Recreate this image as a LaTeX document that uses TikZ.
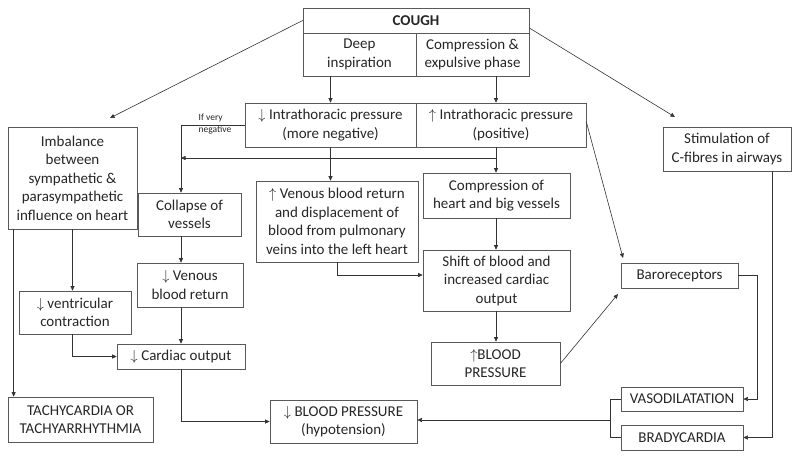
\documentclass[tikz,border=0pt]{standalone}
\usepackage{fontspec}
\setmainfont{Carlito}
\usetikzlibrary{arrows.meta}

\begin{document}
\begin{tikzpicture}[x=1pt, y=-1pt, >={Triangle[length=4.5pt, width=4pt]},
    every node/.style={font=\fontsize{15}{18.5}\selectfont, text=black!85}]
    \tikzset{
        box/.style 2 args={
                draw=black!65, line width=0.7pt, align=center, inner sep=1pt,
                minimum width=#1, minimum height=#2
            },
        wire/.style={draw=black!80, line width=0.6pt}
    }
    \useasboundingbox (0,0) rectangle (799,459);

    % Top row
    \node[box={226pt}{25pt}] (cough) at (416,20.5) {\textbf{COUGH}};
    \node[box={113pt}{43pt}] (deep) at (359.5,54.5) {Deep\\inspiration};
    \node[box={113pt}{43pt}] (compr) at (472.5,54.5) {Compression \&\\expulsive phase};

    % Pressure boxes
    \node[box={171pt}{44pt}] (ipneg) at (330.5,125) {$\downarrow$ Intrathoracic pressure\\(more negative)};
    \node[box={170pt}{44pt}] (ippos) at (501,125) {$\uparrow$ Intrathoracic pressure\\(positive)};
    \node[font=\fontsize{9.5}{12}\selectfont, align=left] (ifneg) at (215,124) {If very\\negative};

    % Left branch
    \node[box={129pt}{102pt}] (imbal) at (72.5,178) {Imbalance\\between\\sympathetic \&\\parasympathetic\\influence on heart};
    \node[box={103pt}{43pt}] (collapse) at (189.5,214.5) {Collapse of\\vessels};
    \node[box={106pt}{44pt}] (vendown) at (190,285) {$\downarrow$ Venous\\blood return};
    \node[box={112pt}{43pt}] (ventr) at (75,312.5) {$\downarrow$ ventricular\\contraction};
    \node[box={128pt}{25pt}] (cardout) at (181,356.5) {$\downarrow$ Cardiac output};
    \node[box={145pt}{45pt}] (tachy) at (80.5,419.5) {TACHYCARDIA OR\\TACHYARRHYTHMIA};
    \node[box={147pt}{43pt}] (bpdown) at (343.5,421.5) {$\downarrow$ BLOOD PRESSURE\\(hypotension)};

    % Middle branch
    \node[box={162pt}{81pt}] (venup) at (337,221.5) {$\uparrow$ Venous blood return\\and displacement of\\blood from pulmonary\\veins into the left heart};
    \node[box={147pt}{45pt}] (comph) at (496.5,195.5) {Compression of\\heart and big vessels};
    \node[box={147pt}{61pt}] (shift) at (496.5,280.5) {Shift of blood and\\increased cardiac\\output};
    \node[box={129pt}{43pt}] (bpup) at (495.5,363.5) {$\uparrow$BLOOD\\PRESSURE};

    % Right branch
    \node[box={128pt}{44pt}] (cfib) at (727,149) {Stimulation of\\C-fibres in airways};
    \node[box={117pt}{25pt}] (baro) at (679.5,275.5) {Baroreceptors};
    \node[box={122pt}{24pt}] (vaso) at (682,399) {VASODILATATION};
    \node[box={122pt}{25pt}] (brady) at (682,437.5) {BRADYCARDIA};

    % Free ends and bends
    \coordinate (imbtip) at (110,118);
    \coordinate (cfibtip) at (675,117);
    \coordinate (barotip) at (623,258);
    \coordinate (barotip2) at (618,294);
    \coordinate (neg) at (181,125);
    \coordinate (split) at (496,158);
    \coordinate (brk) at (610,420);

    % Arrows
    \draw[wire, ->] (cough.west) -- (imbtip);
    \draw[wire, ->] ([yshift=-7.5pt]cough.east) -- (cfibtip);
    \draw[wire, ->] (deep.south -| ipneg.north) -- (ipneg.north);
    \draw[wire, ->] (compr.south -| split) -- (ippos.north -| split);

    \draw[wire, ->] (ipneg.west) -- (neg) -- (neg |- collapse.north);
    \draw[wire, ->] (ipneg.south) -- (ipneg.south |- venup.north);
    \draw[wire, ->] (ippos.south -| split) -- (comph.north -| split);
    \draw[wire, ->] (split) -- (split -| neg);
    \draw[wire, ->] ([yshift=3pt]ippos.east) -- (barotip);

    \draw[wire, ->] (collapse.south -| neg) -- (vendown.north -| neg);
    \draw[wire, ->] (vendown.south -| neg) -- (cardout.north);
    \draw[wire, ->] (imbal.south) -- (imbal.south |- ventr.north);
    \draw[wire, ->] (ventr.south -| imbal.south) |- (cardout.west);
    \draw[wire, ->] ([xshift=6pt]imbal.south west) -- ([xshift=6pt]imbal.south west |- tachy.north);
    \draw[wire, ->] (cardout.south) |- (bpdown.west);

    \draw[wire, ->] (venup.south) |- ([yshift=5.5pt]shift.west);
    \draw[wire, ->] (comph.south -| split) -- (shift.north -| split);
    \draw[wire, ->] (shift.south -| split) -- (bpup.north -| split);
    \draw[wire, ->] (bpup.east) -- (barotip2);

    \draw[wire, ->] (baro.east) -- ++(19,0) |- (vaso.east);
    \draw[wire, ->] ([xshift=45pt]cfib.south) |- (brady.east);
    \draw[wire] (vaso.west) -| (brk) |- (brady.west);
    \draw[wire, ->] (brk) -- (brk -| bpdown.east);
\end{tikzpicture}
\end{document}
